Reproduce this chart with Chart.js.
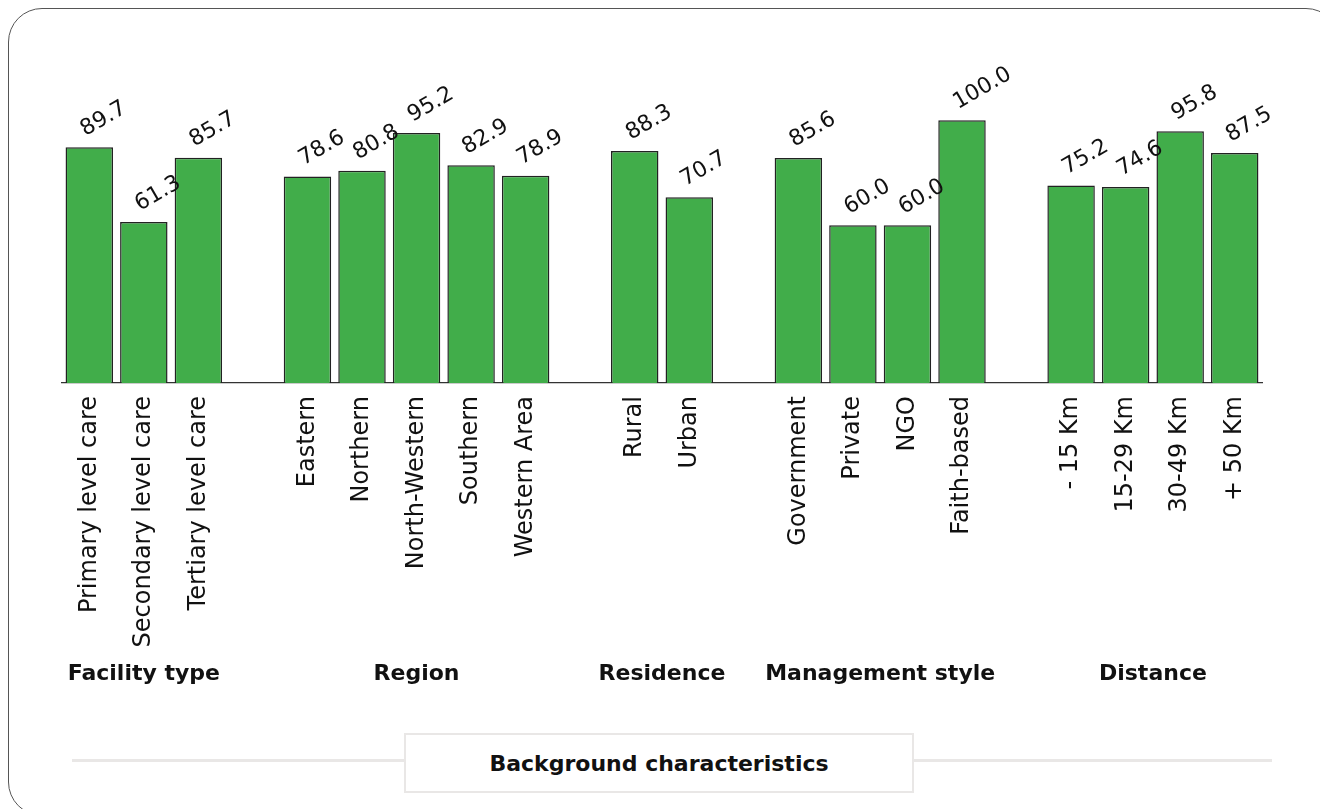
<!DOCTYPE html>
<html>
<head>
<meta charset="utf-8">
<script src="https://cdn.jsdelivr.net/npm/chart.js@4"></script>
<style>
  html, body { margin: 0; padding: 0; background: #fff; }
  #wrap { position: relative; width: 1320px; height: 809px; overflow: hidden; }
  #frame {
    position: absolute; left: 8px; top: 8px; width: 1330px; height: 806px;
    border: 1.5px solid #555; border-radius: 34px; pointer-events: none;
  }
  #rule {
    position: absolute; left: 72px; top: 759px; width: 1200px; height: 3px; background: #e9e7e6;
  }
  #axisTitle {
    position: absolute; left: 404px; top: 733px; width: 506px; height: 56px;
    border: 2px solid #e9e7e6; background: #fff;
    font: 700 22px 'DejaVu Sans', sans-serif; color: #111;
    display: flex; align-items: center; justify-content: center;
  }
  canvas { position: absolute; left: 0; top: 0; }
</style>
</head>
<body>
<div id="wrap">
  <canvas id="bars" width="1320" height="809"></canvas>
  <div id="rule"></div>
  <div id="axisTitle">Background characteristics</div>
  <div id="frame"></div>
</div>
<script>
const facilityType = ["Primary level care", "Secondary level care", "Tertiary level care"];
const facilityVals = [89.7, 61.3, 85.7];
const region = ["Eastern", "Northern", "North-Western", "Southern", "Western Area"];
const regionVals = [78.6, 80.8, 95.2, 82.9, 78.9];
const residence = ["Rural", "Urban"];
const residenceVals = [88.3, 70.7];
const management = ["Government", "Private", "NGO", "Faith-based"];
const managementVals = [85.6, 60.0, 60.0, 100.0];
const distance = ["- 15 Km", "15-29 Km", "30-49 Km", "+ 50 Km"];
const distanceVals = [75.2, 74.6, 95.8, 87.5];

const groupNames = ["Facility type", "Region", "Residence", "Management style", "Distance"];
const groups = [
  [facilityType, facilityVals],
  [region, regionVals],
  [residence, residenceVals],
  [management, managementVals],
  [distance, distanceVals],
];

// flatten groups into one category axis, with a blank slot between groups
const labels = [];
const values = [];
const groupSpans = [];
groups.forEach(([cats, vals], g) => {
  if (g > 0) { labels.push(""); values.push(null); }
  const first = labels.length;
  cats.forEach((c, i) => { labels.push(c); values.push(vals[i]); });
  groupSpans.push([first, labels.length - 1]);
});

const valueLabels = {
  id: "valueLabels",
  afterDatasetsDraw(chart) {
    const ctx = chart.ctx;
    const meta = chart.getDatasetMeta(0);
    ctx.save();
    ctx.font = "22px 'DejaVu Sans'";
    ctx.fillStyle = "#111";
    ctx.textAlign = "left";
    ctx.textBaseline = "alphabetic";
    meta.data.forEach((bar, i) => {
      const v = values[i];
      if (v == null) return;
      ctx.save();
      ctx.translate(bar.x - 4, bar.y - 11);
      ctx.rotate(-Math.PI / 6);
      ctx.fillText(v.toFixed(1), 0, 0);
      ctx.restore();
    });
    ctx.restore();
  },
};

const groupLabels = {
  id: "groupLabels",
  afterDraw(chart) {
    const ctx = chart.ctx;
    const x = chart.scales.x;
    ctx.save();
    ctx.font = "700 22px 'DejaVu Sans'";
    ctx.fillStyle = "#111";
    ctx.textAlign = "center";
    ctx.textBaseline = "middle";
    groupSpans.forEach(([a, b], g) => {
      const cx = (x.getPixelForValue(a) + x.getPixelForValue(b)) / 2;
      ctx.fillText(groupNames[g], cx, 674);
    });
    ctx.restore();
  },
};

new Chart(document.getElementById("bars"), {
  type: "bar",
  data: {
    labels,
    datasets: [
      {
        data: values,
        backgroundColor: "#41ad4a",
        borderColor: "#222",
        borderWidth: 1.5,
        categoryPercentage: 1,
        barPercentage: 0.87,
      },
    ],
  },
  options: {
    responsive: false,
    animation: false,
    layout: { padding: { left: 62, right: 58, top: 94, bottom: 126 } },
    plugins: {
      legend: { display: false },
      tooltip: { enabled: false },
    },
    scales: {
      x: {
        afterFit(scale) { scale.height = 300; },
        grid: { display: false, drawTicks: false },
        border: { display: true, color: "#333", width: 1.2 },
        ticks: {
          autoSkip: false,
          maxRotation: 90,
          minRotation: 90,
          padding: 13,
          color: "#111",
          font: { family: "'DejaVu Sans'", size: 24 },
        },
      },
      y: {
        display: false,
        min: 0,
        max: 110,
      },
    },
  },
  plugins: [valueLabels, groupLabels],
});
</script>
</body>
</html>
